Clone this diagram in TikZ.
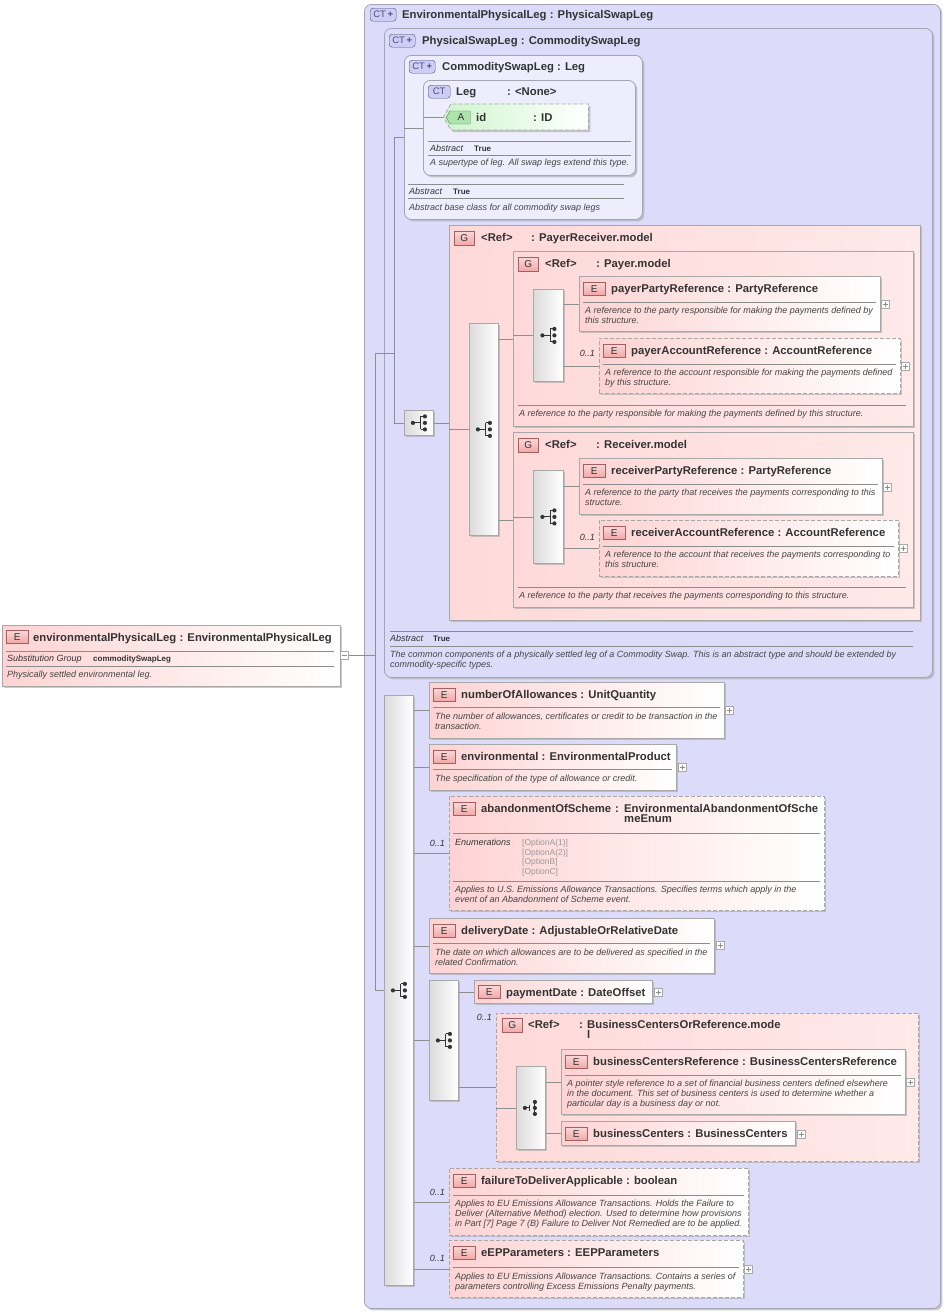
\documentclass[tikz,border=0pt]{standalone}
\usepackage{fontspec}
\setmainfont{Liberation Sans}
\usetikzlibrary{shadows,shapes.symbols}

\definecolor{ctfill}{HTML}{DCDCFA}
\definecolor{ctinner}{HTML}{EDEDFE}
\definecolor{ctedge}{HTML}{A4A4B4}
\definecolor{elempink}{HTML}{FFD3D3}
\definecolor{grppink}{HTML}{FFD9D9}
\definecolor{grplight}{HTML}{FFE9E9}
\definecolor{edgegray}{HTML}{A8A8A8}
\definecolor{wiregray}{HTML}{8E8E8E}
\definecolor{ink}{HTML}{333333}
\definecolor{inksoft}{HTML}{444444}
\definecolor{tagpink}{HTML}{F2A8A8}
\definecolor{tagpinkedge}{HTML}{A55F5F}
\definecolor{tagblue}{HTML}{CDCDF5}
\definecolor{tagblueedge}{HTML}{4E4E80}
\definecolor{attrgreen}{HTML}{CFF5CF}
\definecolor{taggreen}{HTML}{ADE3AD}
\definecolor{taggreenedge}{HTML}{4F7F4F}
\definecolor{enumgray}{HTML}{999999}

\tikzset{
  boxshadow/.style={drop shadow={shadow xshift=2pt, shadow yshift=-2pt, fill=black!35, opacity=.6}},
  ctbox/.style={draw=ctedge, fill=ctfill, rounded corners=7pt, line width=.8pt, anchor=north west, inner sep=0pt, boxshadow},
  elembox/.style={draw=edgegray, line width=.8pt, left color=elempink, right color=white, anchor=north west, inner sep=0pt, boxshadow},
  optbox/.style={elembox, dash pattern=on 4pt off 2pt},
  grpbox/.style={draw=edgegray, line width=.8pt, left color=grppink, right color=grplight, anchor=north west, inner sep=0pt, boxshadow},
  seqbar/.style={draw=edgegray, line width=.8pt, left color=black!14, right color=white, anchor=north west, inner sep=0pt, boxshadow},
  tagE/.style={draw=tagpinkedge, top color=tagpink!45, bottom color=tagpink, anchor=north west, minimum width=22pt, minimum height=13pt, inner sep=0pt, font=\fontsize{10}{10}\selectfont, text=ink},
  tagG/.style={tagE, minimum width=20pt, minimum height=14pt},
  tagCT/.style={draw=tagblueedge, fill=tagblue, rounded corners=3pt, anchor=north west, minimum width=26pt, minimum height=13pt, inner sep=0pt, font=\fontsize{9.5}{10}\selectfont, text=tagblueedge},
  ttl/.style={anchor=base west, inner sep=0pt, font=\fontsize{11.3}{10}\selectfont\bfseries, text=ink},
  dsc/.style={anchor=base west, inner sep=0pt, align=left, font=\fontsize{9}{10}\selectfont\itshape, text=inksoft},
  lbl/.style={anchor=base west, inner sep=0pt, font=\fontsize{9}{10}\selectfont\itshape, text=ink},
  flag/.style={anchor=base west, inner sep=0pt, font=\fontsize{8}{10}\selectfont\bfseries, text=ink},
  enumv/.style={anchor=base west, inner sep=0pt, align=left, font=\fontsize{8.5}{9.7}\selectfont, text=enumgray},
  card/.style={anchor=base east, inner sep=0pt, font=\fontsize{9}{10}\selectfont\itshape, text=ink},
  rule/.style={draw=black!45, line width=.6pt},
  wire/.style={draw=wiregray, line width=.7pt},
  plusbox/.style={draw=edgegray, fill=white, minimum size=8pt, inner sep=0pt, anchor=west, line width=.5pt,
    path picture={\draw[wiregray, line width=.5pt] ([xshift=1.5pt]path picture bounding box.west) -- ([xshift=-1.5pt]path picture bounding box.east);
      \draw[wiregray, line width=.5pt] ([yshift=1.5pt]path picture bounding box.south) -- ([yshift=-1.5pt]path picture bounding box.north);}},
  minusbox/.style={draw=edgegray, fill=white, minimum size=8pt, inner sep=0pt, anchor=west, line width=.5pt,
    path picture={\draw[wiregray, line width=.5pt] ([xshift=1.5pt]path picture bounding box.west) -- ([xshift=-1.5pt]path picture bounding box.east);}},
  seqmark/.pic={
    \draw[ink, line width=1pt] (-6,0) -- (2,0) (2,-6.5) -- (2,6.5) (2,-6.5) -- (6,-6.5) (2,6.5) -- (6,6.5);
    \fill[ink] (-6,0) circle (2.1pt) (6,-6.5) circle (2.1pt) (6,0) circle (2.1pt) (6,6.5) circle (2.1pt);
  },
  choicemark/.pic={
    \draw[ink, line width=1pt] (-6,0) -- (-1,0) (-1,-3) -- (-1,3) (4,-6) -- (4,6);
    \fill[ink] (-6,0) circle (2.1pt) (4,-6) circle (2.1pt) (4,0) circle (2.1pt) (4,6) circle (2.1pt);
  }
}

\begin{document}
\begin{tikzpicture}[x=1pt,y=-1pt]
\useasboundingbox (0,0) rectangle (945,1312);

% Wurzelelement
\node[elembox, minimum width=338pt, minimum height=61pt] (root) at (2,625) {};
\node[tagE] (rootTag) at (6,630) {E};
\node[ttl] (rootName) at (33,641) {environmentalPhysicalLeg : EnvironmentalPhysicalLeg};
\draw[rule] (6,651) -- (334,651);
\node[lbl] (rootSgLbl) at (7,661.5) {Substitution Group};
\node[flag] (rootSg) at (93,661.5) {commoditySwapLeg};
\draw[rule] (6,666) -- (334,666);
\node[dsc] (rootDoc) at (7,677.5) {Physically settled environmental leg.};
\node[minusbox] (rootMinus) at (340,655.5) {};

% Komplextypen
\node[ctbox, minimum width=576pt, minimum height=1304pt] (epl) at (364,4) {};
\node[tagCT] (eplTag) at (370,8) {CT\,{\bfseries+}};
\node[ttl] (eplName) at (402,18) {EnvironmentalPhysicalLeg : PhysicalSwapLeg};
\node[ctbox, minimum width=548pt, minimum height=649pt] (psl) at (384,28) {};
\node[tagCT] (pslTag) at (389,34) {CT\,{\bfseries+}};
\node[ttl] (pslName) at (422,44) {PhysicalSwapLeg : CommoditySwapLeg};
\node[ctbox, fill=ctinner, minimum width=238pt, minimum height=164pt] (csl) at (404,55) {};
\node[tagCT] (cslTag) at (409,60) {CT\,{\bfseries+}};
\node[ttl] (cslName) at (442,70) {CommoditySwapLeg : Leg};
\node[ctbox, fill=ctinner, minimum width=212pt, minimum height=95pt] (leg) at (423,80) {};
\node[tagCT, minimum width=22pt] (legTag) at (428,85) {CT};
\node[ttl] (legName) at (456,95) {Leg};
\node[ttl] (legType) at (507,95) {: <None>};

% Attribut
\node[signal, signal to=west, signal pointer angle=120, draw=edgegray, dash pattern=on 4pt off 2pt, line width=.8pt, left color=attrgreen, right color=white, minimum width=145pt, minimum height=26pt, inner sep=0pt, anchor=west, boxshadow] (idAttr) at (443,117) {};
\node[signal, signal to=west, signal pointer angle=120, draw=taggreenedge, fill=taggreen, minimum width=24pt, minimum height=13pt, inner sep=0pt, anchor=west, font=\fontsize{10}{10}\selectfont, text=ink] (idTag) at (446,117.5) {\,A};
\node[ttl] (idName) at (476,121) {id};
\node[ttl] (idType) at (533,121) {: ID};

% Abstract-Fussnoten
\draw[rule] (428,141) -- (631,141);
\node[lbl] (legAbsLbl) at (430,151.5) {Abstract};
\node[flag] (legAbs) at (474,151.5) {True};
\draw[rule] (428,155) -- (631,155);
\node[dsc] (legDoc) at (430,165.5) {A supertype of leg. All swap legs extend this type.};
\draw[rule] (408,184) -- (624,184);
\node[lbl] (cslAbsLbl) at (409,194.5) {Abstract};
\node[flag] (cslAbs) at (453,194.5) {True};
\draw[rule] (408,198) -- (624,198);
\node[dsc] (cslDoc) at (409,210.5) {Abstract base class for all commodity swap legs};

% PayerReceiver.model
\node[seqbar, minimum width=29pt, minimum height=25pt] (prIcon) at (404,410) {};
\pic at (prIcon.center) {seqmark};
\node[grpbox, minimum width=471pt, minimum height=395pt] (prGrp) at (449,225) {};
\node[tagG] (prTag) at (454,231) {G};
\node[ttl] (prRef) at (481,241) {<Ref>};
\node[ttl] (prType) at (531,241) {: PayerReceiver.model};
\node[seqbar, minimum width=29pt, minimum height=212pt] (prSeq) at (469,323) {};
\pic at (prSeq.center) {seqmark};

% Payer.model
\node[grpbox, minimum width=400pt, minimum height=175pt] (payGrp) at (513,251) {};
\node[tagG] (payTag) at (518,257) {G};
\node[ttl] (payRef) at (545,267) {<Ref>};
\node[ttl] (payType) at (596,267) {: Payer.model};
\node[seqbar, minimum width=30pt, minimum height=92pt] (paySeq) at (533,289) {};
\pic at (paySeq.center) {seqmark};
\node[elembox, minimum width=301pt, minimum height=55pt] (pPR) at (579,276) {};
\node[tagE] (pPRTag) at (583,282) {E};
\node[ttl] (pPRName) at (611,292) {payerPartyReference : PartyReference};
\draw[rule] (583,302) -- (876,302);
\node[dsc] (pPRDoc) at (585,323.5) {A reference to the party responsible for making the payments defined by\\this structure.};
\node[plusbox] (pPRPlus) at (881,304) {};
\node[optbox, minimum width=301pt, minimum height=55pt] (pAR) at (599,338) {};
\node[tagE] (pARTag) at (603,344) {E};
\node[ttl] (pARName) at (631,354) {payerAccountReference : AccountReference};
\draw[rule] (603,364) -- (896,364);
\node[dsc] (pARDoc) at (605,385.5) {A reference to the account responsible for making the payments defined\\by this structure.};
\node[plusbox] (pARPlus) at (901,366) {};
\node[card] (pARCard) at (595,356.5) {0..1};
\draw[rule] (518,405) -- (906,405);
\node[dsc] (payDoc) at (519,416.5) {A reference to the party responsible for making the payments defined by this structure.};

% Receiver.model
\node[grpbox, minimum width=400pt, minimum height=175pt] (rcvGrp) at (513,432) {};
\node[tagG] (rcvTag) at (518,438) {G};
\node[ttl] (rcvRef) at (545,448) {<Ref>};
\node[ttl] (rcvType) at (596,448) {: Receiver.model};
\node[seqbar, minimum width=30pt, minimum height=93pt] (rcvSeq) at (533,470) {};
\pic at (rcvSeq.center) {seqmark};
\node[elembox, minimum width=303pt, minimum height=56pt] (rPR) at (579,458) {};
\node[tagE] (rPRTag) at (583,464) {E};
\node[ttl] (rPRName) at (611,474) {receiverPartyReference : PartyReference};
\draw[rule] (583,484) -- (878,484);
\node[dsc] (rPRDoc) at (585,505.5) {A reference to the party that receives the payments corresponding to this\\structure.};
\node[plusbox] (rPRPlus) at (883,487) {};
\node[optbox, minimum width=299pt, minimum height=56pt] (rAR) at (599,520) {};
\node[tagE] (rARTag) at (603,526) {E};
\node[ttl] (rARName) at (631,536) {receiverAccountReference : AccountReference};
\draw[rule] (603,546) -- (894,546);
\node[dsc] (rARDoc) at (605,567.5) {A reference to the account that receives the payments corresponding to\\this structure.};
\node[plusbox] (rARPlus) at (899,548) {};
\node[card] (rARCard) at (595,540.5) {0..1};
\draw[rule] (518,587) -- (906,587);
\node[dsc] (rcvDoc) at (519,598.5) {A reference to the party that receives the payments corresponding to this structure.};

% PhysicalSwapLeg-Fussnote
\draw[rule] (390,631) -- (913,631);
\node[lbl] (pslAbsLbl) at (390,641.5) {Abstract};
\node[flag] (pslAbs) at (433,641.5) {True};
\draw[rule] (390,646) -- (913,646);
\node[dsc] (pslDoc) at (390,667.5) {The common components of a physically settled leg of a Commodity Swap. This is an abstract type and should be extended by\\commodity-specific types.};

% Hauptsequenz
\node[seqbar, minimum width=29pt, minimum height=590pt] (mainSeq) at (384,695) {};
\pic at (mainSeq.center) {seqmark};

\node[elembox, minimum width=295pt, minimum height=56pt] (noa) at (429,682) {};
\node[tagE] (noaTag) at (433,688) {E};
\node[ttl] (noaName) at (461,698) {numberOfAllowances : UnitQuantity};
\draw[rule] (433,707) -- (720,707);
\node[dsc] (noaDoc) at (435,729.5) {The number of allowances, certificates or credit to be transaction in the\\transaction.};
\node[plusbox] (noaPlus) at (725,710) {};

\node[elembox, minimum width=247pt, minimum height=46pt] (env) at (429,744) {};
\node[tagE] (envTag) at (433,750) {E};
\node[ttl] (envName) at (461,760) {environmental : EnvironmentalProduct};
\draw[rule] (433,769) -- (672,769);
\node[dsc] (envDoc) at (435,781.5) {The specification of the type of allowance or credit.};
\node[plusbox] (envPlus) at (678,767) {};

\node[optbox, minimum width=375pt, minimum height=114pt] (aos) at (449,796) {};
\node[tagE] (aosTag) at (453,802) {E};
\node[ttl] (aosName) at (481,812) {abandonmentOfScheme};
\node[ttl] (aosColon) at (615,812) {:};
\node[ttl, align=left] (aosType) at (624,822) {EnvironmentalAbandonmentOfSche\\meEnum};
\draw[rule] (453,833) -- (820,833);
\node[lbl] (aosEnumLbl) at (455,845.5) {Enumerations};
\node[enumv] (aosEnum) at (522,874.6) {{[OptionA(1)]}\\{[OptionA(2)]}\\{[OptionB]}\\{[OptionC]}};
\draw[rule] (453,881) -- (820,881);
\node[dsc] (aosDoc) at (455,902.5) {Applies to U.S. Emissions Allowance Transactions. Specifies terms which apply in the\\event of an Abandonment of Scheme event.};
\node[card] (aosCard) at (445,846.5) {0..1};

\node[elembox, minimum width=285pt, minimum height=55pt] (dd) at (429,918) {};
\node[tagE] (ddTag) at (433,924) {E};
\node[ttl] (ddName) at (461,934) {deliveryDate : AdjustableOrRelativeDate};
\draw[rule] (433,943) -- (710,943);
\node[dsc] (ddDoc) at (435,965.5) {The date on which allowances are to be delivered as specified in the\\related Confirmation.};
\node[plusbox] (ddPlus) at (716,945) {};

% Zahlungsdatum
\node[seqbar, minimum width=29pt, minimum height=120pt] (pdSeq) at (429,980) {};
\pic at (pdSeq.center) {seqmark};
\node[elembox, minimum width=178pt, minimum height=23pt] (pd) at (474,980) {};
\node[tagE] (pdTag) at (478,985) {E};
\node[ttl] (pdName) at (506,996) {paymentDate : DateOffset};
\node[plusbox] (pdPlus) at (654,992) {};

\node[grpbox, dash pattern=on 4pt off 2pt, minimum width=422pt, minimum height=148pt] (bcGrp) at (496,1013) {};
\node[tagG] (bcTag) at (502,1018) {G};
\node[ttl] (bcRef) at (528,1028) {<Ref>};
\node[ttl] (bcColon) at (579,1028) {:};
\node[ttl, align=left] (bcType) at (587,1038) {BusinessCentersOrReference.mode\\l};
\node[card] (bcCard) at (492,1020.5) {0..1};
\node[seqbar, minimum width=29pt, minimum height=83pt] (bcChoice) at (516,1066) {};
\pic at (bcChoice.center) {choicemark};

\node[elembox, minimum width=344pt, minimum height=65pt] (bcRefEl) at (561,1049) {};
\node[tagE] (bcRefTag) at (565,1055) {E};
\node[ttl] (bcRefName) at (593,1065) {businessCentersReference : BusinessCentersReference};
\draw[rule] (565,1075) -- (901,1075);
\node[dsc] (bcRefDoc) at (567,1106.5) {A pointer style reference to a set of financial business centers defined elsewhere\\in the document. This set of business centers is used to determine whether a\\particular day is a business day or not.};
\node[plusbox] (bcRefPlus) at (906,1082) {};

\node[elembox, minimum width=234pt, minimum height=24pt] (bcs) at (561,1121) {};
\node[tagE] (bcsTag) at (565,1127) {E};
\node[ttl] (bcsName) at (593,1137) {businessCenters : BusinessCenters};
\node[plusbox] (bcsPlus) at (797,1134) {};

% EU-Elemente
\node[optbox, minimum width=299pt, minimum height=67pt] (ftd) at (449,1168) {};
\node[tagE] (ftdTag) at (453,1174) {E};
\node[ttl] (ftdName) at (481,1184) {failureToDeliverApplicable : boolean};
\draw[rule] (453,1195) -- (744,1195);
\node[dsc] (ftdDoc) at (455,1226.5) {Applies to EU Emissions Allowance Transactions. Holds the Failure to\\Deliver (Alternative Method) election. Used to determine how provisions\\in Part [7] Page 7 (B) Failure to Deliver Not Remedied are to be applied.};
\node[card] (ftdCard) at (445,1195.5) {0..1};

\node[optbox, minimum width=294pt, minimum height=57pt] (eep) at (449,1240) {};
\node[tagE] (eepTag) at (453,1246) {E};
\node[ttl] (eepName) at (481,1256) {eEPParameters : EEPParameters};
\draw[rule] (453,1267) -- (739,1267);
\node[dsc] (eepDoc) at (455,1289.5) {Applies to EU Emissions Allowance Transactions. Contains a series of\\parameters controlling Excess Emissions Penalty payments.};
\node[card] (eepCard) at (445,1261.5) {0..1};
\node[plusbox] (eepPlus) at (744,1269) {};

% Verbindungen
\coordinate (jA) at (375,655.5);
\coordinate (jB) at (394,136);
\draw[wire] (rootMinus.east) -- (jA);
\draw[wire] (jA |- psl.west) -- (jA |- mainSeq.west) -- (mainSeq.west);
\draw[wire] (jA |- psl.west) -- (jB |- psl.west);
\draw[wire] (jB |- csl.west) -- (jB |- prIcon.west) -- (prIcon.west);
\draw[wire] (jB |- csl.west) -- (csl.west);
\draw[wire] (csl.west |- leg.west) -- (leg.west);
\draw[wire] (leg.west |- idAttr.west) -- (idAttr.west);
\draw[wire] (prIcon.east) -- (prGrp.west);
\draw[wire] (prGrp.west |- prSeq.west) -- (prSeq.west);
\draw[wire] (prSeq.east |- payGrp.west) -- (payGrp.west) (payGrp.west |- paySeq.west) -- (paySeq.west);
\draw[wire] (prSeq.east |- rcvGrp.west) -- (rcvGrp.west) (rcvGrp.west |- rcvSeq.west) -- (rcvSeq.west);
\draw[wire] (paySeq.east |- pPR.west) -- (pPR.west) (paySeq.east |- pAR.west) -- (pAR.west);
\draw[wire] (rcvSeq.east |- rPR.west) -- (rPR.west) (rcvSeq.east |- rAR.west) -- (rAR.west);
\draw[wire] (mainSeq.east |- noa.west) -- (noa.west) (mainSeq.east |- env.west) -- (env.west)
  (mainSeq.east |- aos.west) -- (aos.west) (mainSeq.east |- dd.west) -- (dd.west)
  (mainSeq.east |- pdSeq.west) -- (pdSeq.west) (mainSeq.east |- ftd.west) -- (ftd.west)
  (mainSeq.east |- eep.west) -- (eep.west);
\draw[wire] (pdSeq.east |- pd.west) -- (pd.west) (pdSeq.east |- bcGrp.west) -- (bcGrp.west);
\draw[wire] (bcGrp.west |- bcChoice.west) -- (bcChoice.west);
\draw[wire] (bcChoice.east |- bcRefEl.west) -- (bcRefEl.west) (bcChoice.east |- bcs.west) -- (bcs.west);
\end{tikzpicture}
\end{document}
